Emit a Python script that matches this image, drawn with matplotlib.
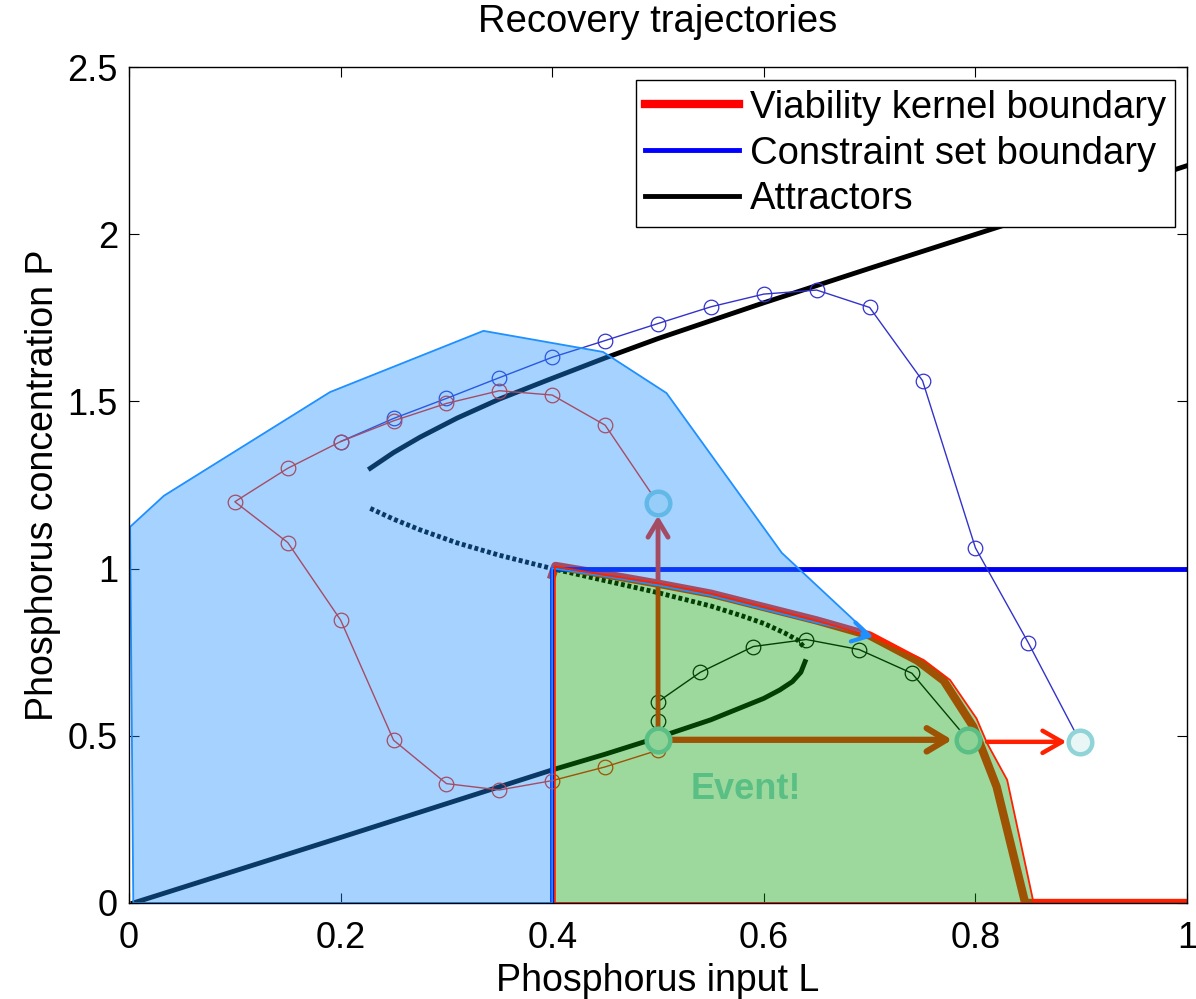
import matplotlib
matplotlib.use("Agg")
import matplotlib.pyplot as plt
from matplotlib.lines import Line2D

plt.rcParams['font.family'] = ['Liberation Sans', 'DejaVu Sans']

# attractors (stable upper / unstable middle / stable lower branch)
up_L = [0.228, 0.25, 0.275, 0.31, 0.35, 0.395, 0.45, 0.50, 0.60, 0.70, 0.83, 1.00]
up_P = [1.300, 1.347, 1.393, 1.450, 1.507, 1.563, 1.630, 1.688, 1.795, 1.898, 2.030, 2.205]
mid_L = [0.228, 0.25, 0.275, 0.31, 0.35, 0.40, 0.45, 0.50, 0.55, 0.58, 0.60, 0.62, 0.632, 0.639]
mid_P = [1.180, 1.148, 1.116, 1.077, 1.040, 1.000, 0.964, 0.928, 0.888, 0.858, 0.836, 0.807, 0.786, 0.762]
low_L = [0.004, 0.2, 0.3, 0.4, 0.45, 0.5, 0.55, 0.60, 0.615, 0.627, 0.635, 0.639]
low_P = [0.0, 0.196, 0.297, 0.398, 0.445, 0.495, 0.548, 0.612, 0.637, 0.662, 0.69, 0.722]

# viability kernel boundary (thick line)
kern_L = [0.40, 0.403, 0.45, 0.50, 0.55, 0.60, 0.65, 0.70, 0.745, 0.77, 0.798, 0.82, 0.847, 0.86, 1.00]
kern_P = [0.98, 1.008, 0.983, 0.955, 0.925, 0.885, 0.845, 0.80, 0.725, 0.665, 0.527, 0.348, 0.0, 0.0, 0.0]

# viability kernel region
green_L = [0.4025, 0.4025, 0.45, 0.50, 0.55, 0.60, 0.65, 0.7035, 0.751, 0.776, 0.801, 0.811, 0.830, 0.855]
green_P = [0.0, 1.006, 0.981, 0.956, 0.925, 0.885, 0.844, 0.795, 0.727, 0.667, 0.552, 0.478, 0.368, 0.0]

# constraint set minus kernel
blue_L = [0.004, 0.001, 0.033, 0.19, 0.335, 0.448, 0.508, 0.617, 0.700,
          0.65, 0.60, 0.55, 0.50, 0.45, 0.400, 0.400]
blue_P = [0.0, 1.125, 1.218, 1.528, 1.711, 1.648, 1.525, 1.047, 0.802,
          0.838, 0.878, 0.919, 0.950, 0.977, 1.001, 0.0]

# constraint set boundary
cons_L = [0.4, 0.4, 1.0]
cons_P = [0.0, 1.0, 1.0]

# trajectories
blue_traj_L = [0.899, 0.85, 0.80, 0.75, 0.70, 0.65, 0.60, 0.55, 0.50, 0.45, 0.40, 0.35, 0.30, 0.25, 0.20]
blue_traj_P = [0.482, 0.778, 1.062, 1.562, 1.781, 1.833, 1.821, 1.783, 1.733, 1.682, 1.632, 1.571, 1.509, 1.449, 1.38]
red_traj_L = [0.50, 0.45, 0.40, 0.35, 0.30, 0.25, 0.20, 0.15, 0.10, 0.15, 0.20, 0.25, 0.30, 0.35, 0.40, 0.45, 0.50]
red_traj_P = [1.195, 1.429, 1.519, 1.532, 1.494, 1.442, 1.380, 1.300, 1.200, 1.078, 0.846, 0.487, 0.357, 0.338, 0.366, 0.407, 0.457]
blk_traj_L = [0.50, 0.50, 0.50, 0.54, 0.59, 0.64, 0.69, 0.74, 0.793]
blk_traj_P = [0.488, 0.544, 0.602, 0.69, 0.767, 0.788, 0.758, 0.687, 0.488]

# states before / after the event
state_L = [0.50, 0.50, 0.793, 0.899]
state_P = [1.195, 0.488, 0.488, 0.482]

RED = '#ff2000'
BLUE_FILL = '#1e90ff'
GREEN_FILL = '#0aa00a'
STATE = '#90d4d8'

fig = plt.figure(figsize=(11.96, 9.99), dpi=100)
ax = fig.add_axes([0.1079, 0.0961, 0.8846, 0.8368])

# everything below is seen through the translucent regions
ax.plot(up_L, up_P, color='black', lw=3.5, zorder=2)
ax.plot(mid_L, mid_P, color='black', lw=3.5, ls=(0, (0.8, 0.55)), zorder=2)
ax.plot(low_L, low_P, color='black', lw=3.5, zorder=2)
ax.plot(kern_L, kern_P, color=RED, lw=6, zorder=2, solid_joinstyle='round')
ax.plot(cons_L, cons_P, color='#0000f0', lw=3.5, zorder=2.2)

ax.plot(blue_traj_L, blue_traj_P, color='#3333cc', lw=1, marker='o', ms=10.5,
        mfc='none', mew=0.9, zorder=2.4)
ax.plot(red_traj_L, red_traj_P, color=RED, lw=1, marker='o', ms=10.5,
        mfc='none', mew=0.9, zorder=2.5)
ax.plot(blk_traj_L, blk_traj_P, color='black', lw=1, marker='o', ms=10.5,
        mfc='none', mew=0.9, zorder=2.5)

arr = dict(color=RED, shrinkA=0, shrinkB=0, mutation_scale=20,
           capstyle='round', joinstyle='round')
ax.annotate('', xy=(state_L[0], 1.158), xytext=(state_L[1], state_P[1]),
            arrowprops=dict(arrowstyle='->,head_length=0.6,head_width=0.36', lw=3.5, **arr), zorder=2.6)
ax.annotate('', xy=(0.778, state_P[1]), xytext=(state_L[1], state_P[1]),
            arrowprops=dict(arrowstyle='->,head_length=0.7,head_width=0.42', lw=4.5, **arr), zorder=2.6)
ax.annotate('', xy=(0.886, state_P[3]), xytext=(0.811, state_P[3]),
            arrowprops=dict(arrowstyle='->,head_length=0.7,head_width=0.4', lw=3.2, **arr), zorder=2.6)

ax.plot(state_L, state_P, ls='none', marker='o', ms=17, mfc='#e8f6f6', mec=STATE,
        mew=3.2, zorder=2.8)
ax.text(0.583, 0.338, 'Event!', ha='center', va='center', fontsize=26,
        fontweight='bold', color=STATE, zorder=2.8)

# translucent regions
ax.fill(blue_L, blue_P, facecolor=BLUE_FILL, alpha=0.4, edgecolor='none', zorder=4)
ax.fill(green_L, green_P, facecolor=GREEN_FILL, alpha=0.4, edgecolor='none', zorder=4)
ax.fill(blue_L, blue_P, facecolor='none', edgecolor=BLUE_FILL, lw=1.3, zorder=5)
ax.fill(green_L, green_P, facecolor='none', edgecolor=RED, lw=1.3, zorder=5.2)
ax.annotate('', xy=(0.7035, 0.796), xytext=(0.693, 0.804),
            arrowprops=dict(arrowstyle='->,head_length=0.6,head_width=0.35', lw=3,
                            color=BLUE_FILL, shrinkA=0, shrinkB=0, mutation_scale=20,
                            capstyle='round', joinstyle='round'), zorder=5.3)

ax.set_xlim(0, 1)
ax.set_ylim(0, 2.5)
ax.set_xticks([0, 0.2, 0.4, 0.6, 0.8, 1])
ax.set_xticklabels(['0', '0.2', '0.4', '0.6', '0.8', '1'])
ax.set_yticks([0, 0.5, 1, 1.5, 2, 2.5])
ax.set_yticklabels(['0', '0.5', '1', '1.5', '2', '2.5'])
ax.tick_params(direction='in', length=7, width=0.8, top=True, right=True, labelsize=26)
ax.tick_params(axis='x', pad=13)
ax.tick_params(axis='y', pad=8)
for s in ax.spines.values():
    s.set_linewidth(1.0)
    s.set_zorder(6)

ax.set_xlabel('Phosphorus input L', fontsize=27, labelpad=5)
ax.set_ylabel('Phosphorus concentration P', fontsize=27, labelpad=5)
ax.set_title('Recovery trajectories', fontsize=27.5, pad=25)

handles = [Line2D([], [], color='#ff0000', lw=6),
           Line2D([], [], color='#0000ff', lw=3.5),
           Line2D([], [], color='black', lw=3.5)]
leg = ax.legend(handles, ['Viability kernel boundary', 'Constraint set boundary', 'Attractors'],
                loc='upper right', bbox_to_anchor=(0.989, 0.9844), fontsize=27.5,
                fancybox=False, edgecolor='black', framealpha=1, handlelength=2.45,
                handletextpad=0.29, labelspacing=0.26, borderpad=0.25, borderaxespad=0)
leg.get_frame().set_linewidth(1.0)
leg.set_zorder(10)

fig.savefig('out.png', dpi=100)
